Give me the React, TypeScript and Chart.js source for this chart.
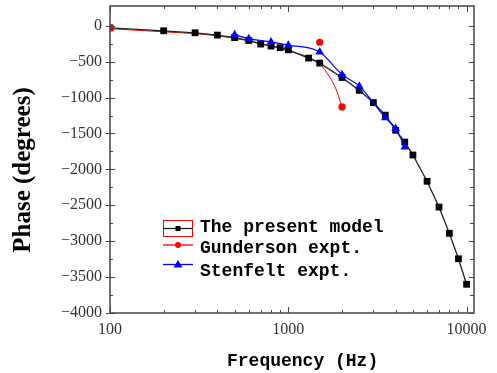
import React, { useEffect, useRef } from "react";
import { Chart, registerables } from "chart.js";

Chart.register(...registerables);

// Present model (black squares)
const modelFreq = [100, 200, 300, 400, 500, 600, 700, 800, 900, 1000, 1300, 1500, 2000, 2500, 3000, 3500, 4000, 4500, 5000, 6000, 7000, 8000, 9000, 10000];
const modelPhase = [-30, -70, -98, -130, -165, -205, -255, -283, -305, -335, -450, -520, -720, -900, -1070, -1245, -1455, -1620, -1800, -2166, -2525, -2890, -3245, -3600];

// Gunderson experiment (red dots) and its fitted curve
const gundersonFreq = [100, 1500, 2000];
const gundersonPhase = [-30, -230, -1130];
const gundersonCurveFreq = [100, 200, 300, 400, 600, 800, 1000, 1300, 1500, 1700, 1850, 2000];
const gundersonCurvePhase = [-40, -85, -110, -140, -210, -280, -350, -440, -530, -710, -880, -1130];

// Stenfelt experiment (blue triangles)
const stenfeltFreq = [500, 600, 800, 1000, 1500, 2000, 2500, 3500, 4000, 4500];
const stenfeltPhase = [-125, -180, -225, -270, -365, -680, -841, -1280, -1431, -1690];

// Axis ticks
const xTickValues = [100, 200, 300, 400, 500, 600, 700, 800, 900, 1000, 2000, 3000, 4000, 5000, 6000, 7000, 8000, 9000, 10000];
const xLabelValues = [100, 1000, 10000];
const yTickValues = [0, -250, -500, -750, -1000, -1250, -1500, -1750, -2000, -2250, -2500, -2750, -3000, -3250, -3500, -3750, -4000];

const legendLabels = ["The present model", "Gunderson expt.", "Stenfelt expt."];
const xTitle = "Frequency (Hz)";
const yTitle = "Phase (degrees)";

const pts = (xs: number[], ys: number[]) => xs.map((x, i) => ({ x, y: ys[i] }));

const noPadding = (s: any) => {
  s.paddingTop = 0;
  s.paddingBottom = 0;
  s.paddingLeft = 0;
  s.paddingRight = 0;
};

const framePlugin = {
  id: "frame",
  afterDraw(chart: any) {
    const { ctx, chartArea: a, scales } = chart;
    const xs = scales.x;
    const ys = scales.y;
    ctx.save();
    // frame
    ctx.strokeStyle = "#444";
    ctx.lineWidth = 1.5;
    ctx.strokeRect(a.left, a.top, a.right - a.left, a.bottom - a.top);
    ctx.lineWidth = 1;
    ctx.beginPath();
    for (const v of yTickValues) {
      const y = Math.round(ys.getPixelForValue(v)) + 0.5;
      const major = v % 500 === 0;
      if (major) {
        ctx.moveTo(a.left - 4, y);
        ctx.lineTo(a.left + 5, y);
      } else {
        ctx.moveTo(a.left, y);
        ctx.lineTo(a.left + 3, y);
      }
      ctx.moveTo(a.right, y);
      ctx.lineTo(a.right - (major ? 5 : 4), y);
    }
    for (const v of xTickValues) {
      const x = Math.round(xs.getPixelForValue(v)) + 0.5;
      const len = xLabelValues.includes(v) ? 6 : 3;
      ctx.moveTo(x, a.bottom);
      ctx.lineTo(x, a.bottom - len);
      ctx.moveTo(x, a.top);
      ctx.lineTo(x, a.top + len);
    }
    ctx.stroke();

    // axis titles
    ctx.fillStyle = "#000";
    ctx.font = "bold 18px 'Liberation Mono'";
    ctx.textAlign = "left";
    ctx.textBaseline = "alphabetic";
    ctx.fillText(xTitle, 227, 366);

    ctx.save();
    ctx.translate(30, 170);
    ctx.rotate(-Math.PI / 2);
    ctx.font = "bold 25px 'Liberation Serif'";
    ctx.textAlign = "center";
    ctx.fillText(yTitle, 0, 0);
    ctx.restore();

    // legend
    const sx0 = 163;
    const sx1 = 193;
    const mx = 178;
    const rows = [228.5, 245, 264.5];
    const base = [232, 253, 276];
    ctx.strokeStyle = "#ff0000";
    ctx.lineWidth = 1;
    ctx.strokeRect(163.5, 220.5, 29, 16);

    ctx.lineWidth = 1.3;
    ctx.strokeStyle = "#222";
    ctx.beginPath();
    ctx.moveTo(sx0, rows[0]);
    ctx.lineTo(sx1, rows[0]);
    ctx.stroke();
    ctx.fillStyle = "#000";
    ctx.fillRect(mx - 2.5, rows[0] - 2.5, 5, 5);

    ctx.strokeStyle = "#ff0000";
    ctx.beginPath();
    ctx.moveTo(sx0, rows[1]);
    ctx.lineTo(sx1, rows[1]);
    ctx.stroke();
    ctx.fillStyle = "#ff0000";
    ctx.beginPath();
    ctx.arc(mx, rows[1], 3, 0, Math.PI * 2);
    ctx.fill();

    ctx.strokeStyle = "#0000ff";
    ctx.beginPath();
    ctx.moveTo(sx0, rows[2]);
    ctx.lineTo(sx1, rows[2]);
    ctx.stroke();
    ctx.fillStyle = "#0000ff";
    ctx.beginPath();
    ctx.moveTo(mx, rows[2] - 4.5);
    ctx.lineTo(mx + 4.5, rows[2] + 3);
    ctx.lineTo(mx - 4.5, rows[2] + 3);
    ctx.closePath();
    ctx.fill();

    ctx.fillStyle = "#000";
    ctx.font = "bold 18px 'Liberation Mono'";
    ctx.textAlign = "left";
    legendLabels.forEach((t, i) => ctx.fillText(t, 200, base[i]));
    ctx.restore();
  },
};

export default function App() {
  const ref = useRef<HTMLCanvasElement | null>(null);

  useEffect(() => {
    if (!ref.current) return;
    const chart = new Chart(ref.current, {
      type: "line",
      data: {
        datasets: [
          {
            label: legendLabels[1],
            data: pts(gundersonFreq, gundersonPhase),
            showLine: false,
            pointStyle: "circle",
            pointRadius: 3.6,
            pointBackgroundColor: "#ff0000",
            pointBorderWidth: 0,
            borderColor: "#ff0000",
          },
          {
            label: legendLabels[2],
            data: pts(stenfeltFreq, stenfeltPhase),
            borderColor: "#0000ff",
            borderWidth: 1.2,
            cubicInterpolationMode: "monotone",
            pointStyle: "triangle",
            pointRadius: 5,
            pointBackgroundColor: "#0000ff",
            pointBorderWidth: 0,
          },
          {
            label: legendLabels[0],
            data: pts(modelFreq, modelPhase),
            borderColor: "#222",
            borderWidth: 1.3,
            tension: 0,
            pointStyle: "rect",
            pointRadius: 4.8,
            pointBackgroundColor: "#000",
            pointBorderWidth: 0,
          },
          {
            label: "fit",
            data: pts(gundersonCurveFreq, gundersonCurvePhase),
            borderColor: "#ff0000",
            borderWidth: 1,
            cubicInterpolationMode: "monotone",
            pointRadius: 0,
          },
        ],
      },
      options: {
        responsive: false,
        animation: false,
        devicePixelRatio: 1,
        layout: { padding: { top: 6, right: 23, left: 0, bottom: 0 } },
        plugins: { legend: { display: false }, tooltip: { enabled: false } },
        scales: {
          x: {
            type: "logarithmic",
            min: 100,
            max: 11000,
            grid: { display: false, drawTicks: false },
            border: { display: false },
            afterBuildTicks: (s: any) => {
              s.ticks = xTickValues.map((value) => ({ value }));
            },
            afterFit: (s: any) => {
              s.height = 60;
              noPadding(s);
            },
            ticks: {
              autoSkip: false,
              maxRotation: 0,
              padding: 7,
              color: "#333",
              font: { family: "'Liberation Serif'", size: 16 },
              callback: (v: any) => (xLabelValues.includes(Number(v)) ? String(v) : ""),
            },
          },
          y: {
            type: "linear",
            min: -4000,
            max: 275,
            grid: { display: false, drawTicks: false },
            border: { display: false },
            afterBuildTicks: (s: any) => {
              s.ticks = yTickValues.map((value) => ({ value }));
            },
            afterFit: (s: any) => {
              s.width = 110;
              noPadding(s);
            },
            ticks: {
              autoSkip: false,
              padding: 8,
              color: "#333",
              font: { family: "'Liberation Serif'", size: 16 },
              callback: (v: any) => {
                const n = Number(v);
                if (n % 500 !== 0) return "";
                return n < 0 ? "\u2212" + Math.abs(n) : String(n);
              },
            },
          },
        },
      },
      plugins: [framePlugin],
    });
    return () => chart.destroy();
  }, []);

  return (
    <div style={{ position: "fixed", left: 0, top: 0, width: 497, height: 373, background: "#fff" }}>
      <canvas ref={ref} width={497} height={373} />
    </div>
  );
}
